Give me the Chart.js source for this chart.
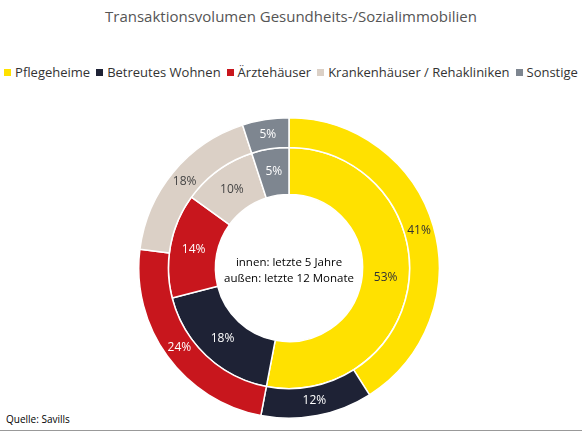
<!DOCTYPE html><html><head><meta charset="utf-8">
<script src="https://cdn.jsdelivr.net/npm/chart.js@4"></script>
<style>
body{margin:0;width:582px;height:433px;background:#fff;font-family:"Open Sans",sans-serif;position:relative;overflow:hidden}
#t{position:absolute;top:6px;left:0;width:582px;text-align:center;font-size:15px;color:#555}
#lg{position:absolute;top:63px;left:0;width:582px;text-align:center;font-size:13px;color:#333;white-space:nowrap}
#lg span{margin:0 3px}#lg i{display:inline-block;width:7px;height:7px;margin-right:4px;vertical-align:1px}
#src{position:absolute;left:6px;top:412px;font-size:10px;color:#000}
#ln{position:absolute;left:0;top:430px;width:582px;border-top:1px solid #999}
#c{position:absolute;left:138px;top:117px}
</style></head><body>
<div id="t">Transaktionsvolumen Gesundheits-/Sozialimmobilien</div>
<div id="lg"></div>
<div id="src">Quelle: Savills</div><div id="ln"></div>
<div id="c"><canvas id="cv" width="302" height="302"></canvas></div>
<script>
const categories=["Pflegeheime","Betreutes Wohnen","Ärztehäuser","Krankenhäuser / Rehakliniken","Sonstige"];
const outerValues=[41,12,24,18,5];
const innerValues=[53,18,14,10,5];
const colors=["#ffe100","#1e2235","#c8161d","#dbd0c6","#7e8690"];
const labelColors=["#333","#fff","#fff","#444","#fff"];
document.getElementById('lg').innerHTML=categories.map((c,i)=>`<span><i style="background:${colors[i]}"></i>${c}</span>`).join('');
const labels={id:'lbl',afterDatasetsDraw(ch){const x=ch.ctx;x.save();x.font='12px "Open Sans"';x.textAlign='center';x.textBaseline='middle';
ch.data.datasets.forEach((d,di)=>{ch.getDatasetMeta(di).data.forEach((a,i)=>{const p=a.tooltipPosition();x.fillStyle=labelColors[i];x.fillText(d.data[i]+'%',p.x,p.y);});});
x.fillStyle='#000';x.font='11.5px "Open Sans"';x.fillText('innen: letzte 5 Jahre',151,146);x.fillText('außen: letzte 12 Monate',151,162);x.restore();}};
new Chart(document.getElementById('cv'),{type:'doughnut',data:{labels:categories,datasets:[
{data:outerValues,backgroundColor:colors,borderColor:'#fff',borderWidth:1.5,weight:29},
{data:innerValues,backgroundColor:colors,borderColor:'#fff',borderWidth:1.5,weight:46}]},
options:{responsive:false,animation:false,cutout:'49%',plugins:{legend:{display:false},tooltip:{enabled:false}}},plugins:[labels]});
</script></body></html>
